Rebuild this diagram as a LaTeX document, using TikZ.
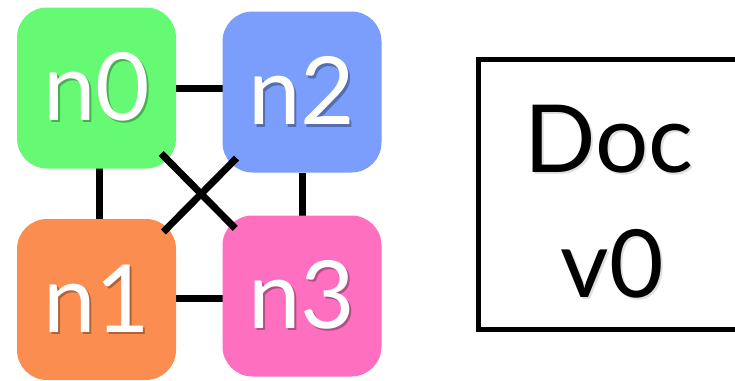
\documentclass[tikz,border=0pt]{standalone}
\usepackage{fontspec}
\setmainfont{Lato}
\usetikzlibrary{backgrounds}

\definecolor{boxgreen}{HTML}{66F973}
\definecolor{boxblue}{HTML}{7B9DFB}
\definecolor{boxorange}{HTML}{FC8D50}
\definecolor{boxpink}{HTML}{FF6FC0}

% text with a soft drop shadow in a darker tone of the box colour
\newcommand\shadowed[2]{\makebox[0pt][l]{\kern2pt\raisebox{-2.5pt}{\color{#2}#1}}#1}

\tikzset{
  peer/.style={rounded corners=30pt, inner sep=0pt, text=white,
    minimum width=159pt, minimum height=161pt,
    font=\fontsize{94}{100}\selectfont},
  link/.style={line width=7pt, black},
  docbox/.style={draw=black, line width=5pt, fill=white,
    minimum width=267pt, minimum height=270pt},
  doctext/.style={font=\fontsize{94}{100}\selectfont, anchor=base}
}

\begin{document}
\begin{tikzpicture}[x=1pt, y=-1pt]
  \useasboundingbox (0,0) rectangle (735,380);

  % replica nodes
  \node[peer, fill=boxgreen]  (n0) at (96.5,88)  {\shadowed{n0}{boxgreen!70!black}};
  \node[peer, fill=boxblue]   (n2) at (302,92)   {\shadowed{n2}{boxblue!70!black}};
  \node[peer, fill=boxorange] (n1) at (96.5,299.5) {\shadowed{n1}{boxorange!70!black}};
  \node[peer, fill=boxpink]   (n3) at (302,296)  {\shadowed{n3}{boxpink!70!black}};

  % links along the sides of the square
  \begin{pgfonlayer}{background}
    \draw[link] (n0) -- (n0 -| n2);
    \draw[link] ([yshift=-2pt]n3.center) -- ([yshift=-2pt]n3.center -| n1);
    \draw[link] ([xshift=3pt]n0.center) -- ([xshift=3pt]n0.center |- n1);
    \draw[link] (n2) -- (n2 |- n3);
  \end{pgfonlayer}

  % crossing links, overlapping the rounded corners
  \draw[link, shorten <=92pt, shorten >=95pt] (n0.center) -- (n3.center);
  \draw[link, shorten <=93pt, shorten >=95pt] (n2.center) -- (n1.center);

  % shared document
  \node[docbox] (doc) at (611.5,194) {};
  \node[doctext] (doclabel) at (609,172) {\shadowed{Doc}{black!12}};
  \node[doctext] (docver) at (612.5,297) {\shadowed{v0}{black!12}};
\end{tikzpicture}
\end{document}
